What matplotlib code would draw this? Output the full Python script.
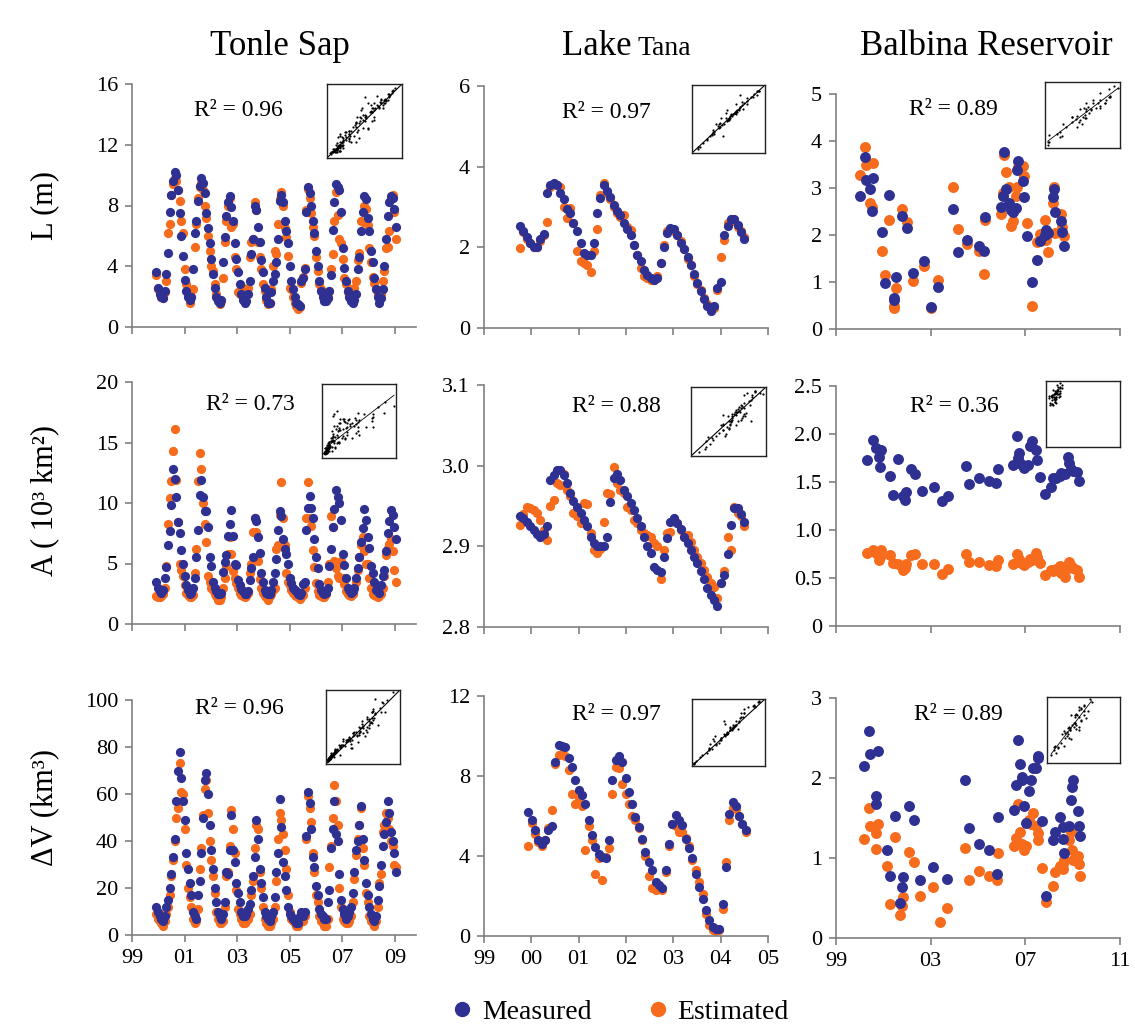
import numpy as np
import matplotlib
matplotlib.use("Agg")
import matplotlib.pyplot as plt
from matplotlib.lines import Line2D

plt.rcParams['font.family'] = ['Liberation Serif', 'DejaVu Serif']

BLUE = '#2E3092'
ORANGE = '#F66B1C'
GREY = '#808080'
W, H = 1135, 1031

# ---------------- Tonle Sap ----------------
tonle_t = [
    1999.92, 1999.99, 2000.05, 2000.11, 2000.18, 2000.24, 2000.30, 2000.37, 2000.43, 2000.49,
    2000.56, 2000.62, 2000.68, 2000.75, 2000.81, 2000.87, 2000.94, 2001.00, 2001.06, 2001.13,
    2001.19, 2001.25, 2001.32, 2001.38, 2001.44, 2001.51, 2001.57, 2001.63, 2001.70, 2001.76,
    2001.82, 2001.89, 2001.95, 2002.01, 2002.08, 2002.14, 2002.20, 2002.27, 2002.33, 2002.39,
    2002.46, 2002.52, 2002.58, 2002.65, 2002.71, 2002.77, 2002.84, 2002.90, 2002.96, 2003.03,
    2003.09, 2003.15, 2003.22, 2003.28, 2003.34, 2003.41, 2003.47, 2003.53, 2003.59, 2003.66,
    2003.72, 2003.78, 2003.85, 2003.91, 2003.97, 2004.04, 2004.10, 2004.16, 2004.23, 2004.29,
    2004.35, 2004.42, 2004.48, 2004.54, 2004.61, 2004.67, 2004.73, 2004.80, 2004.86, 2004.92,
    2004.99, 2005.05, 2005.11, 2005.18, 2005.24, 2005.30, 2005.37, 2005.43, 2005.49, 2005.56,
    2005.62, 2005.68, 2005.75, 2005.81, 2005.87, 2005.94, 2006.00, 2006.06, 2006.13, 2006.19,
    2006.25, 2006.32, 2006.38, 2006.44, 2006.51, 2006.57, 2006.63, 2006.70, 2006.76, 2006.82,
    2006.89, 2006.95, 2007.01, 2007.08, 2007.14, 2007.20, 2007.27, 2007.33, 2007.39, 2007.46,
    2007.52, 2007.58, 2007.65, 2007.71, 2007.77, 2007.84, 2007.90, 2007.96, 2008.03, 2008.09,
    2008.15, 2008.22, 2008.28, 2008.34, 2008.41, 2008.47, 2008.53, 2008.59, 2008.66, 2008.72,
    2008.78, 2008.85, 2008.91, 2008.97, 2009.04]

tonle_L_meas = [
    3.6, 2.6, 2.2, 2.0, 1.9, 2.4, 3.5, 4.9, 7.6, 8.7,
    9.6, 10.2, 10.0, 9.0, 7.5, 6.0, 4.7, 3.1, 2.4, 2.0,
    1.8, 2.0, 3.8, 6.2, 7.0, 8.3, 9.3, 9.8, 9.5, 8.8,
    7.5, 6.5, 5.5, 4.5, 3.5, 2.6, 2.0, 1.7, 1.6, 1.8,
    4.3, 5.9, 7.3, 8.2, 8.6, 7.9, 7.0, 5.5, 4.5, 3.6,
    2.8, 2.2, 1.8, 1.6, 1.7, 2.2, 3.0, 4.8, 5.8, 8.0,
    7.7, 6.6, 5.6, 4.4, 3.6, 2.6, 2.0, 1.6, 1.6, 2.3,
    3.0, 3.5, 4.3, 5.8, 8.3, 8.7, 8.2, 7.0, 6.3, 5.5,
    4.0, 3.0, 2.5, 2.0, 1.6, 1.5, 1.4, 3.0, 3.2, 3.8,
    7.6, 9.2, 8.8, 8.0, 7.0, 6.2, 5.0, 4.0, 3.0, 2.4,
    2.0, 1.7, 1.7, 1.9, 2.4, 3.4, 6.4, 8.2, 9.4, 9.2,
    9.0, 7.6, 5.2, 3.9, 3.0, 2.4, 2.0, 1.7, 1.6, 1.8,
    2.2, 3.8, 4.6, 6.3, 7.6, 8.6, 8.4, 7.2, 6.3, 5.0,
    4.3, 3.2, 2.5, 2.0, 1.6, 1.9, 2.5, 4.0, 5.8, 7.3,
    8.2, 8.6, 8.5, 7.8, 6.6]
tonle_L_est = [
    3.4, 2.5, 2.2, 2.0, 1.9, 2.3, 3.0, 6.2, 6.8, 8.7,
    9.4, 9.8, 9.6, 9.0, 8.3, 7.0, 6.2, 3.8, 2.8, 2.2,
    1.6, 2.0, 2.5, 5.3, 6.8, 8.5, 9.2, 9.5, 9.0, 8.0,
    7.2, 6.0, 5.0, 4.0, 3.7, 2.8, 2.2, 1.8, 1.5, 1.7,
    3.2, 5.6, 7.0, 8.0, 8.5, 6.6, 6.8, 4.6, 3.8, 2.3,
    2.2, 2.3, 2.6, 2.2, 2.4, 2.6, 4.6, 5.6, 5.8, 8.2,
    7.7, 5.6, 4.6, 3.8, 2.8, 2.4, 1.8, 1.5, 1.6, 2.5,
    4.0, 5.0, 4.8, 6.8, 8.4, 8.9, 8.0, 6.5, 5.9, 4.7,
    2.6, 2.5, 2.0, 1.6, 1.4, 1.2, 1.3, 2.9, 3.3, 3.9,
    7.7, 9.1, 8.5, 7.5, 6.6, 6.0, 4.6, 3.7, 2.8, 2.5,
    2.2, 1.8, 1.8, 2.0, 2.4, 3.8, 4.8, 7.0, 8.9, 7.4,
    5.8, 5.5, 4.5, 3.2, 2.8, 2.3, 2.0, 1.8, 2.0, 2.6,
    3.0, 4.4, 4.9, 7.0, 6.9, 8.0, 7.8, 6.7, 5.2, 4.3,
    3.3, 2.9, 2.5, 2.2, 1.9, 2.2, 3.0, 3.7, 5.2, 5.3,
    6.3, 8.4, 8.7, 7.6, 5.8]

tonle_A_meas = [
    3.5, 3.0, 2.7, 2.6, 2.8, 3.8, 4.7, 6.5, 7.7, 9.8,
    12.8, 12.0, 10.5, 8.4, 7.5, 6.1, 5.0, 4.0, 3.2, 2.8,
    2.5, 2.6, 3.0, 3.8, 5.5, 7.8, 10.7, 11.9, 10.5, 9.3,
    9.3, 8.0, 5.5, 4.8, 3.5, 3.0, 2.7, 2.5, 2.5, 2.6,
    4.3, 5.1, 5.7, 7.3, 8.3, 9.4, 7.3, 5.0, 4.9, 3.6,
    3.2, 2.9, 2.7, 2.5, 2.5, 2.7, 3.6, 4.6, 5.5, 8.8,
    8.5, 7.2, 5.9, 4.2, 3.5, 2.8, 2.6, 2.5, 2.5, 2.8,
    3.5, 4.2, 5.4, 7.8, 9.3, 8.9, 7.0, 6.2, 5.8, 5.0,
    3.8, 3.4, 3.0, 2.8, 2.7, 2.5, 2.4, 2.6, 3.3, 3.5,
    7.8, 9.6, 10.6, 9.6, 8.8, 7.0, 5.5, 4.6, 3.3, 2.8,
    2.6, 2.5, 2.6, 3.0, 4.8, 6.2, 8.0, 9.5, 11.1, 10.5,
    10.0, 8.6, 5.8, 4.9, 3.8, 3.0, 2.8, 2.6, 2.7, 3.0,
    3.8, 4.6, 5.5, 6.8, 7.9, 9.5, 8.6, 7.2, 6.3, 4.8,
    4.2, 3.5, 2.8, 2.7, 2.6, 3.2, 4.0, 4.5, 6.0, 7.5,
    8.5, 9.4, 9.0, 8.0, 7.0]
tonle_A_est = [
    2.3, 2.2, 2.2, 2.3, 2.5, 3.0, 4.8, 8.3, 10.4, 11.8,
    14.3, 16.1, 11.9, 8.4, 5.0, 4.5, 4.0, 3.2, 2.6, 2.4,
    2.2, 2.2, 2.4, 4.2, 6.2, 11.8, 14.1, 12.8, 10.0, 8.3,
    6.8, 4.0, 3.5, 3.0, 2.8, 2.5, 2.3, 2.0, 2.0, 2.2,
    3.0, 3.8, 4.8, 5.8, 7.2, 5.8, 4.4, 3.8, 3.4, 3.0,
    2.6, 2.4, 2.3, 2.2, 2.3, 2.6, 4.2, 5.0, 7.6, 8.8,
    7.6, 5.2, 3.7, 3.0, 2.6, 2.3, 2.2, 2.0, 2.3, 2.5,
    2.8, 3.0, 6.2, 6.5, 9.0, 11.7, 8.8, 6.5, 4.2, 3.5,
    3.2, 2.8, 2.6, 2.4, 2.3, 2.2, 2.1, 2.2, 2.4, 3.0,
    8.8, 11.7, 8.8, 8.1, 6.1, 4.7, 3.4, 2.7, 2.4, 2.3,
    2.2, 2.2, 2.5, 3.5, 5.0, 8.9, 8.0, 5.2, 4.6, 4.0,
    3.8, 5.2, 3.8, 3.3, 2.7, 2.5, 2.4, 2.3, 2.5, 3.0,
    3.5, 4.5, 5.5, 6.5, 7.2, 6.0, 5.0, 5.0, 3.8, 3.0,
    2.5, 2.4, 2.3, 2.2, 2.3, 2.5, 3.0, 4.0, 5.7, 6.3,
    6.6, 7.0, 6.0, 4.5, 3.5]

tonle_V_meas = [
    12, 10, 8, 7, 6, 8, 12, 15, 20, 26,
    33, 41, 57, 70, 78, 67, 57, 49, 35, 28,
    22, 17, 10, 8, 7, 17, 23, 35, 50, 66,
    69, 60, 47, 36, 28, 20, 14, 10, 8, 7,
    9, 14, 27, 26, 36, 51, 36, 31, 22, 18,
    14, 10, 8, 8, 9, 11, 13, 19, 25, 33,
    49, 41, 28, 22, 16, 10, 8, 7, 6, 8,
    10, 16, 27, 35, 58, 46, 31, 25, 19, 12,
    9, 8, 7, 6, 5, 5, 8, 10, 8, 10,
    42, 61, 56, 45, 33, 29, 21, 17, 11, 9,
    8, 7, 7, 14, 19, 37, 45, 57, 43, 40,
    26, 15, 11, 9, 7, 8, 10, 12, 18, 27,
    36, 40, 47, 55, 41, 32, 22, 17, 12, 9,
    7, 6, 8, 15, 21, 30, 38, 43, 48, 57,
    52, 44, 40, 35, 27]
tonle_V_est = [
    9, 7, 6, 5, 4, 6, 9, 12, 17, 25,
    32, 40, 50, 54, 73, 61, 60, 45, 30, 20,
    16, 12, 7, 5, 6, 11, 28, 37, 51, 62,
    66, 52, 40, 32, 25, 18, 10, 7, 5, 5,
    6, 12, 25, 27, 38, 53, 45, 35, 19, 11,
    9, 7, 5, 5, 6, 7, 9, 17, 23, 37,
    47, 45, 27, 20, 12, 7, 5, 4, 4, 5,
    7, 12, 23, 41, 52, 49, 43, 36, 28, 17,
    10, 7, 6, 5, 4, 4, 6, 8, 6, 8,
    41, 59, 54, 48, 35, 27, 17, 14, 8, 6,
    5, 4, 4, 7, 29, 38, 50, 64, 57, 47,
    20, 12, 7, 6, 5, 5, 6, 8, 14, 24,
    34, 41, 47, 54, 37, 30, 18, 14, 8, 6,
    5, 4, 6, 12, 22, 26, 44, 47, 52, 50,
    45, 40, 38, 30, 29]

# ---------------- Lake Tana ----------------
tana_t = [
    1999.76, 1999.83, 1999.90, 1999.98, 2000.05, 2000.12, 2000.19, 2000.26, 2000.33, 2000.40,
    2000.47, 2000.54, 2000.61, 2000.68, 2000.75, 2000.82, 2000.89, 2000.96, 2001.04, 2001.11,
    2001.18, 2001.25, 2001.32, 2001.39, 2001.46, 2001.53, 2001.60, 2001.67, 2001.74, 2001.81,
    2001.88, 2001.95, 2002.02, 2002.10, 2002.17, 2002.24, 2002.31, 2002.38, 2002.45, 2002.52,
    2002.59, 2002.66, 2002.73, 2002.80, 2002.87, 2002.94, 2003.01, 2003.08, 2003.16, 2003.23,
    2003.30, 2003.37, 2003.44, 2003.51, 2003.58, 2003.65, 2003.72, 2003.79, 2003.86, 2003.93,
    2004.00, 2004.07, 2004.15, 2004.22, 2004.29, 2004.36, 2004.43, 2004.50]

tana_L_meas = [
    2.52, 2.4, 2.25, 2.1, 2.02, 2.0, 2.2, 2.33, 3.34, 3.55,
    3.6, 3.55, 3.34, 3.2, 2.95, 2.85, 2.6, 2.4, 2.1, 1.85,
    1.8, 1.8, 2.1, 2.85, 3.22, 3.55, 3.4, 3.25, 3.05, 2.9,
    2.8, 2.6, 2.45, 2.3, 2.05, 1.8, 1.65, 1.44, 1.32, 1.25,
    1.2, 1.25, 1.6, 2.0, 2.35, 2.48, 2.45, 2.31, 2.1, 1.95,
    1.75, 1.55, 1.35, 1.11, 0.91, 0.72, 0.54, 0.41, 0.54, 0.98,
    1.15, 2.3, 2.52, 2.7, 2.7, 2.55, 2.38, 2.2]
tana_L_est = [
    1.98, 2.38, 2.2, 2.1, 2.0, 2.0, 2.15, 2.3, 2.62, 3.5,
    3.58, 3.55, 3.5, 3.0, 2.72, 2.97, 2.6, 1.9, 1.65, 1.6,
    1.55, 1.4, 1.9, 2.45, 3.3, 3.6, 3.35, 3.2, 3.0, 2.85,
    2.75, 2.8, 2.5, 2.43, 2.05, 1.8, 1.5, 1.28, 1.25, 1.2,
    1.2, 1.3, 1.6, 2.05, 2.4, 2.45, 2.4, 2.3, 2.15, 1.95,
    1.7, 1.55, 1.3, 1.1, 0.95, 0.75, 0.6, 0.49, 0.5, 0.95,
    1.77, 2.19, 2.6, 2.65, 2.65, 2.5, 2.4, 2.25]

tana_A_meas = [
    2.937, 2.935, 2.93, 2.925, 2.92, 2.915, 2.912, 2.915, 2.925, 2.982,
    2.988, 2.995, 2.995, 2.988, 2.978, 2.966, 2.956, 2.949, 2.941, 2.933,
    2.925, 2.912, 2.904, 2.9, 2.9, 2.9, 2.912, 2.955, 2.985, 2.99,
    2.982, 2.97, 2.962, 2.954, 2.945, 2.935, 2.925, 2.912, 2.9, 2.892,
    2.875, 2.871, 2.868, 2.887, 2.91, 2.93, 2.935, 2.929, 2.921, 2.912,
    2.904, 2.896, 2.887, 2.879, 2.869, 2.859, 2.848, 2.84, 2.834, 2.826,
    2.855, 2.864, 2.89, 2.927, 2.947, 2.947, 2.94, 2.93]
tana_A_est = [
    2.927, 2.94, 2.949, 2.947, 2.945, 2.941, 2.933, 2.92, 2.908, 2.95,
    2.958, 2.978, 2.976, 2.99, 2.97, 2.962, 2.941, 2.937, 2.929, 2.954,
    2.952, 2.916, 2.896, 2.892, 2.897, 2.93, 2.966, 2.965, 2.998, 2.978,
    2.97, 2.966, 2.949, 2.945, 2.933, 2.929, 2.92, 2.916, 2.914, 2.912,
    2.904, 2.9, 2.859, 2.896, 2.916, 2.918, 2.931, 2.929, 2.92, 2.912,
    2.914, 2.905, 2.896, 2.887, 2.879, 2.871, 2.862, 2.854, 2.85, 2.836,
    2.854, 2.869, 2.912, 2.896, 2.949, 2.941, 2.937, 2.925]

tana_tV = [
    1999.94, 2000.01, 2000.08, 2000.15, 2000.22, 2000.29, 2000.36, 2000.43, 2000.51, 2000.58,
    2000.65, 2000.72, 2000.79, 2000.86, 2000.93, 2001.00, 2001.07, 2001.14, 2001.21, 2001.28,
    2001.35, 2001.42, 2001.49, 2001.57, 2001.64, 2001.71, 2001.78, 2001.85, 2001.92, 2001.99,
    2002.06, 2002.13, 2002.20, 2002.27, 2002.34, 2002.41, 2002.48, 2002.55, 2002.63, 2002.70,
    2002.77, 2002.84, 2002.91, 2002.98, 2003.05, 2003.12, 2003.19, 2003.26, 2003.33, 2003.40,
    2003.47, 2003.54, 2003.62, 2003.69, 2003.76, 2003.83, 2003.90, 2003.97, 2004.04, 2004.11,
    2004.18, 2004.25, 2004.32, 2004.39, 2004.46, 2004.53]
tana_V_meas = [
    6.2, 5.8, 5.3, 4.8, 4.6, 4.8, 5.3, 5.5, 8.7, 9.55,
    9.5, 9.45, 8.9, 8.45, 7.8, 7.3, 7.05, 6.6, 5.8, 5.05,
    4.45, 4.1, 3.95, 3.9, 4.8, 7.8, 8.8, 9.0, 8.7, 7.9,
    7.2, 6.6, 5.95, 5.45, 4.87, 4.2, 3.7, 3.3, 2.7, 2.55,
    2.4, 3.3, 4.6, 5.6, 6.05, 5.8, 5.55, 4.87, 4.4, 3.9,
    3.12, 2.45, 1.87, 1.29, 0.78, 0.45, 0.35, 0.37, 1.6, 3.45,
    6.1, 6.7, 6.5, 6.0, 5.6, 5.3]
tana_V_est = [
    4.5, 5.65, 5.1, 4.7, 4.5, 4.8, 5.4, 6.3, 8.6, 9.05,
    9.1, 9.0, 8.3, 7.1, 6.6, 6.9, 6.5, 4.3, 5.5, 4.8,
    3.1, 3.9, 2.8, 3.95, 4.4, 7.1, 8.45, 8.4, 7.6, 7.1,
    6.6, 6.0, 5.8, 5.4, 4.8, 4.0, 3.0, 2.4, 2.3, 2.35,
    2.3, 3.2, 4.5, 5.6, 5.5, 5.2, 5.2, 4.9, 4.5, 3.8,
    3.3, 2.7, 2.1, 1.12, 0.55, 0.28, 0.25, 0.28, 1.37, 3.7,
    5.8, 6.4, 6.35, 6.0, 5.6, 5.2]

# ---------------- Balbina Reservoir ----------------
balb_tL = [
    2000.00, 2000.21, 2000.26, 2000.44, 2000.51, 2000.58, 2000.94, 2001.05, 2001.22, 2001.43,
    2001.45, 2001.54, 2001.78, 2001.99, 2002.27, 2002.73, 2003.00, 2003.33, 2003.95, 2004.16,
    2004.55, 2005.03, 2005.26, 2005.28, 2005.96, 2006.06, 2006.10, 2006.20, 2006.31, 2006.41,
    2006.48, 2006.59, 2006.64, 2006.70, 2006.90, 2006.94, 2007.07, 2007.29, 2007.50, 2007.64,
    2007.81, 2007.88, 2007.95, 2008.16, 2008.23, 2008.27, 2008.51, 2008.54, 2008.62]
balb_L_meas = [
    2.83, 3.65, 3.17, 2.98, 2.51, 3.22, 2.06, 0.98, 2.85, 0.66,
    0.62, 1.1, 2.41, 2.15, 1.2, 1.45, 0.46, 0.89, 2.55, 1.63,
    1.9, 1.76, 1.65, 2.39, 2.6, 2.82, 3.77, 2.98, 2.68, 2.54,
    2.5, 2.57, 3.38, 3.58, 3.15, 2.8, 1.97, 1.01, 1.47, 1.88,
    2.0, 2.11, 2.04, 2.8, 2.98, 2.48, 2.29, 2.06, 1.76]
balb_L_est = [
    3.28, 3.88, 3.49, 2.69, 2.59, 3.53, 1.65, 1.15, 2.32, 0.5,
    0.45, 0.87, 2.56, 2.27, 1.03, 1.33, 0.44, 1.05, 3.03, 2.12,
    1.81, 1.65, 1.18, 2.32, 2.44, 2.9, 3.7, 3.33, 3.03, 2.2,
    2.3, 2.82, 3.02, 3.45, 3.46, 3.26, 2.25, 0.5, 1.86, 2.03,
    2.32, 1.9, 1.63, 2.68, 3.03, 2.04, 2.45, 2.18, 1.97]

balb_tA = [
    2000.32, 2000.56, 2000.67, 2000.81, 2000.85, 2000.92, 2001.28, 2001.42, 2001.62, 2001.84,
    2001.91, 2001.97, 2002.18, 2002.34, 2002.65, 2003.14, 2003.46, 2003.74, 2004.49, 2004.63,
    2005.05, 2005.48, 2005.76, 2005.86, 2006.47, 2006.64, 2006.68, 2006.75, 2006.82, 2006.96,
    2007.10, 2007.18, 2007.27, 2007.46, 2007.50, 2007.64, 2007.84, 2008.09, 2008.17, 2008.31,
    2008.45, 2008.52, 2008.66, 2008.80, 2008.84, 2008.92, 2009.01, 2009.20, 2009.25]
balb_A_meas = [
    1.73, 1.94, 1.85, 1.76, 1.66, 1.83, 1.56, 1.36, 1.74, 1.35,
    1.31, 1.4, 1.64, 1.58, 1.41, 1.45, 1.3, 1.35, 1.67, 1.48,
    1.54, 1.51, 1.49, 1.64, 1.68, 1.98, 1.75, 1.8, 1.69, 1.65,
    1.68, 1.87, 1.93, 1.83, 1.73, 1.55, 1.37, 1.45, 1.54, 1.54,
    1.56, 1.59, 1.58, 1.76, 1.7, 1.64, 1.61, 1.6, 1.51]
balb_A_est = [
    0.76, 0.79, 0.76, 0.69, 0.72, 0.79, 0.74, 0.66, 0.65, 0.58,
    0.6, 0.65, 0.74, 0.75, 0.65, 0.65, 0.54, 0.59, 0.75, 0.67,
    0.67, 0.64, 0.63, 0.69, 0.65, 0.75, 0.68, 0.7, 0.66, 0.64,
    0.67, 0.7, 0.69, 0.76, 0.72, 0.66, 0.53, 0.58, 0.57, 0.59,
    0.62, 0.55, 0.51, 0.6, 0.67, 0.63, 0.6, 0.58, 0.51]

balb_tV = [
    2000.17, 2000.41, 2000.44, 2000.67, 2000.69, 2000.79, 2001.15, 2001.30, 2001.51, 2001.71,
    2001.80, 2001.85, 2002.08, 2002.28, 2002.57, 2003.10, 2003.41, 2003.70, 2004.44, 2004.61,
    2005.05, 2005.47, 2005.81, 2005.85, 2006.51, 2006.60, 2006.67, 2006.77, 2006.84, 2006.88,
    2006.95, 2007.02, 2007.16, 2007.22, 2007.31, 2007.47, 2007.52, 2007.55, 2007.69, 2007.86,
    2008.15, 2008.27, 2008.46, 2008.58, 2008.60, 2008.65, 2008.86, 2008.92, 2008.96, 2009.03,
    2009.24, 2009.28, 2009.31]
balb_V_meas = [
    2.15, 2.59, 2.3, 1.77, 1.68, 2.34, 1.1, 0.78, 1.53, 0.44,
    0.64, 0.76, 1.65, 1.48, 0.73, 0.89, np.nan, 0.74, 1.98, 1.38,
    1.18, 1.1, 0.8, 1.51, 1.6, 1.91, 2.47, 2.18, 1.97, 2.01,
    1.65, 1.44, 1.84, 1.97, 2.13, 2.13, 2.28, 2.25, 1.46, 0.53,
    1.23, 1.33, 1.51, 1.39, 1.24, 1.06, 1.4, 1.73, 1.89, 1.97,
    1.59, 1.4, 1.28]
balb_V_est = [
    1.24, 1.62, 1.4, 1.31, 1.11, 1.43, 0.9, 0.43, 1.26, 0.29,
    0.4, 0.51, 1.08, 0.95, 0.52, 0.64, 0.2, 0.38, 1.12, 0.72,
    0.84, 0.77, 0.73, 1.06, 1.15, 1.25, 1.68, 1.32, 1.18, 1.16,
    1.1, 1.15, 1.48, 1.42, 1.56, 1.4, 1.23, 1.31, 0.87, 0.45,
    0.65, 0.83, 0.9, 0.93, 0.86, 0.98, 1.23, 1.32, 1.1, 0.98,
    1.02, 0.93, 0.77]

r2_values = [["0.96", "0.97", "0.89"],
             ["0.73", "0.88", "0.36"],
             ["0.96", "0.97", "0.89"]]
lake_names = ["Tonle Sap", "Lake Tana", "Balbina Reservoir"]
row_labels = ["L (m)", "A ( 10\u00b3 km\u00b2)", "\u0394V (km\u00b3)"]


def px_axes(fig, left, top, right, bottom):
    return fig.add_axes([left / W, 1 - bottom / H, (right - left) / W, (bottom - top) / H])


def panel(fig, box, t, meas, est, ylim, yticks, ylabs, xlim, xticks, xlabs, size):
    ax = px_axes(fig, *box)
    ax.scatter(t, est, s=size, color=ORANGE, linewidths=0, zorder=2, clip_on=False)
    ax.scatter(t, meas, s=size, color=BLUE, linewidths=0, zorder=3, clip_on=False)
    ax.set_xlim(*xlim)
    ax.set_ylim(*ylim)
    ax.set_yticks(yticks)
    ax.set_yticklabels(ylabs)
    ax.set_xticks(xticks)
    if xlabs:
        ax.set_xticklabels(["%02d" % (int(x) % 100) for x in xticks])
    else:
        ax.set_xticklabels([])
    for s in ["top", "right"]:
        ax.spines[s].set_visible(False)
    for s in ["left", "bottom"]:
        ax.spines[s].set_color(GREY)
        ax.spines[s].set_linewidth(1.2)
    ax.tick_params(direction="out", length=5, width=1.2, color=GREY,
                   labelsize=16, pad=5)
    return ax


def inset(fig, box, meas, est, xlim, ylim, line):
    ax = px_axes(fig, *box)
    m = np.array(meas, dtype=float)
    e = np.array(est, dtype=float)
    ok = ~np.isnan(m) & ~np.isnan(e)
    ax.scatter(e[ok], m[ok], s=2.5, color="black", linewidths=0)
    if line == "full":
        ax.plot(xlim, xlim, color="black", lw=0.8)
    elif line == "fit":
        k, b = np.polyfit(e[ok], m[ok], 1)
        xx = np.array([e[ok].min(), e[ok].max()])
        ax.plot(xx, k * xx + b, color="black", lw=0.6)
    ax.set_xlim(*xlim)
    ax.set_ylim(*ylim)
    ax.set_xticks([])
    ax.set_yticks([])
    for s in ax.spines.values():
        s.set_linewidth(1.0)
        s.set_color("#222222")


fig = plt.figure(figsize=(W / 100, H / 100), dpi=100)

cols_x = [(132, 416), (484, 768), (836, 1120)]
rows_y = [[(84, 327), (86, 328), (94, 329)],
          [(382, 624), (385, 627), (386, 626)],
          [(700, 935), (696, 936), (698, 938)]]

xlims = [(1999, 2009.8), (1999, 2005), (1999, 2011)]
xticks = [[1999, 2001, 2003, 2005, 2007, 2009],
          [1999, 2000, 2001, 2002, 2003, 2004, 2005],
          [1999, 2003, 2007, 2011]]

series = [
    [(tonle_t, tonle_L_meas, tonle_L_est), (tana_t, tana_L_meas, tana_L_est), (balb_tL, balb_L_meas, balb_L_est)],
    [(tonle_t, tonle_A_meas, tonle_A_est), (tana_t, tana_A_meas, tana_A_est), (balb_tA, balb_A_meas, balb_A_est)],
    [(tonle_t, tonle_V_meas, tonle_V_est), (tana_tV, tana_V_meas, tana_V_est), (balb_tV, balb_V_meas, balb_V_est)],
]

yspec = [
    [((0, 16), [0, 4, 8, 12, 16], ["0", "4", "8", "12", "16"]),
     ((0, 6), [0, 2, 4, 6], ["0", "2", "4", "6"]),
     ((0, 5), [0, 1, 2, 3, 4, 5], ["0", "1", "2", "3", "4", "5"])],
    [((0, 20), [0, 5, 10, 15, 20], ["0", "5", "10", "15", "20"]),
     ((2.8, 3.1), [2.8, 2.9, 3.0, 3.1], ["2.8", "2.9", "3.0", "3.1"]),
     ((0, 2.5), [0, 0.5, 1.0, 1.5, 2.0, 2.5], ["0", "0.5", "1.0", "1.5", "2.0", "2.5"])],
    [((0, 100), [0, 20, 40, 60, 80, 100], ["0", "20", "40", "60", "80", "100"]),
     ((0, 12), [0, 4, 8, 12], ["0", "4", "8", "12"]),
     ((0, 3), [0, 1, 2, 3], ["0", "1", "2", "3"])],
]

sizes = [44, 44, 62]

r2_pos = [[(238, 111), (606, 113), (953, 110)],
          [(250, 405), (616, 407), (954, 407)],
          [(239, 708), (616, 715), (958, 715)]]

inset_boxes = [[(327, 84, 402, 158), (692, 85, 765, 153), (1045, 82, 1120, 148)],
               [(322, 384, 396, 458), (691, 387, 766, 456), (1046, 381, 1120, 447)],
               [(326, 690, 400, 764), (692, 699, 765, 766), (1047, 697, 1120, 763)]]
inset_lims = [[((0.8, 10.8), (0.8, 10.8), "full"), ((0.2, 3.9), (0.2, 3.9), "full"), ((0.3, 4.0), (0.3, 4.0), "fit")],
              [((1.5, 16.5), (1.5, 16.5), "fit"), ((2.815, 3.005), (2.815, 3.005), "full"), ((0.45, 2.05), (0.0, 2.05), None)],
              [((2, 80), (2, 80), "full"), ((0, 9.9), (0, 9.9), "full"), ((0.15, 2.65), (0.15, 2.65), "fit")]]

for r in range(3):
    for c in range(3):
        top, bot = rows_y[r][c]
        left, right = cols_x[c]
        t, meas, est = series[r][c]
        ylim, yt, yl = yspec[r][c]
        panel(fig, (left, top, right, bot), t, meas, est, ylim, yt, yl,
              xlims[c], xticks[c], r == 2, sizes[c])
        x, y = r2_pos[r][c]
        fig.text(x / W, 1 - y / H, "R\u00b2 = " + r2_values[r][c],
                 ha="center", va="center", fontsize=17)
        xl, yl2, ln = inset_lims[r][c]
        inset(fig, inset_boxes[r][c], meas, est, xl, yl2, ln)

# column titles
fig.text(280 / W, 1 - 55 / H, lake_names[0], ha="center", va="baseline", fontsize=25)
fig.text(632 / W, 1 - 55 / H, "Lake", ha="right", va="baseline", fontsize=25)
fig.text(638 / W, 1 - 55 / H, "Tana", ha="left", va="baseline", fontsize=20)
fig.text(986 / W, 1 - 55 / H, lake_names[2], ha="center", va="baseline", fontsize=25)

# row labels
for lab, yc in zip(row_labels, [205, 500, 808]):
    fig.text(45 / W, 1 - yc / H, lab, ha="center", va="center", rotation=90, fontsize=22)

handles = [Line2D([], [], marker="o", ls="", color=BLUE, markersize=10, label="Measured"),
           Line2D([], [], marker="o", ls="", color=ORANGE, markersize=10, label="Estimated")]
fig.legend(handles=handles, loc="center", bbox_to_anchor=(620 / W, 1 - 1012 / H), ncol=2,
           frameon=False, fontsize=20, handletextpad=0.3, columnspacing=2.0, handlelength=0.8)

fig.savefig("out.png", dpi=100)
